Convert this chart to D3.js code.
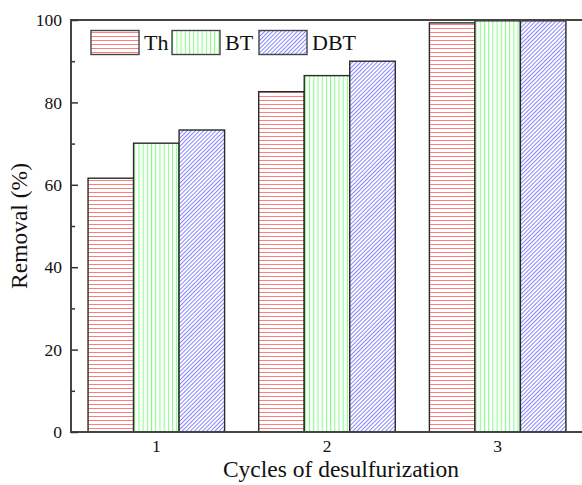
<!DOCTYPE html>
<html>
<head>
<meta charset="utf-8">
<script src="https://cdn.jsdelivr.net/npm/d3@7"></script>
<style>
  body { margin: 0; background: #fff; }
  svg text { font-family: 'Liberation Serif', 'Times New Roman', Tinos, 'DejaVu Serif', serif !important; fill: #111; }
</style>
</head>
<body>
<svg id="chart"></svg>
<script>
// data
const cycles = ['1', '2', '3'];
const seriesNames = ['Th', 'BT', 'DBT'];
const thValues = [61.6, 82.6, 99.3];
const btValues = [70.1, 86.5, 99.8];
const dbtValues = [73.3, 90.0, 99.8];
const yTicks = [0, 20, 40, 60, 80, 100];

const config = {
    width: 582,
    height: 485,
    margin: {top: 20, right: -1, bottom: 53, left: 71}
};

const rows = cycles.map((c, i) => ({
    cycle: c,
    Th: thValues[i],
    BT: btValues[i],
    DBT: dbtValues[i]
}));

const svg = d3.select('#chart')
    .attr('width', config.width)
    .attr('height', config.height);

const plotW = config.width - config.margin.left - config.margin.right;
const plotH = config.height - config.margin.top - config.margin.bottom;

// hatch patterns
const defs = svg.append('defs');
const hatch = [
    {id: 'pat-Th', color: '#ff7f7f', rotate: 0, size: 4, vertical: false},
    {id: 'pat-BT', color: '#7fff7f', rotate: 0, size: 4.2, vertical: true},
    {id: 'pat-DBT', color: '#8585ff', rotate: 45, size: 2.9, vertical: true}
];
hatch.forEach(h => {
    const p = defs.append('pattern')
        .attr('id', h.id)
        .attr('patternUnits', 'userSpaceOnUse')
        .attr('width', h.size)
        .attr('height', h.size);
    if (h.rotate) p.attr('patternTransform', `rotate(${h.rotate})`);
    p.append('rect').attr('width', h.size).attr('height', h.size).attr('fill', '#fff');
    if (h.vertical) {
        p.append('line').attr('x1', 0.5).attr('x2', 0.5).attr('y1', 0).attr('y2', h.size)
            .attr('stroke', h.color).attr('stroke-width', 1);
    } else {
        p.append('line').attr('x1', 0).attr('x2', h.size).attr('y1', 0.5).attr('y2', 0.5)
            .attr('stroke', h.color).attr('stroke-width', 1);
    }
});

const chart = svg.append('g')
    .attr('transform', `translate(${config.margin.left},${config.margin.top})`);

const xScale = d3.scaleBand()
    .domain(cycles)
    .range([0, plotW])
    .paddingInner(0.2)
    .paddingOuter(0.1);

const xSub = d3.scaleBand()
    .domain(seriesNames)
    .range([0, xScale.bandwidth()])
    .padding(0);

const yScale = d3.scaleLinear()
    .domain([0, 100])
    .range([plotH, 0]);

// bars
chart.selectAll('.group')
    .data(rows)
    .join('g')
    .attr('class', 'group')
    .attr('transform', d => `translate(${xScale(d.cycle)},0)`)
    .selectAll('rect')
    .data(d => seriesNames.map(k => ({key: k, value: d[k]})))
    .join('rect')
    .attr('x', d => xSub(d.key))
    .attr('y', d => yScale(d.value))
    .attr('width', xSub.bandwidth())
    .attr('height', d => plotH - yScale(d.value))
    .attr('fill', d => `url(#pat-${d.key})`)
    .attr('stroke', '#2a2a2a')
    .attr('stroke-width', 1.4);

// frame
chart.append('rect')
    .attr('width', plotW)
    .attr('height', plotH)
    .attr('fill', 'none')
    .attr('stroke', '#444')
    .attr('stroke-width', 2);

// y axis, ticks inward
const yAxis = d3.axisLeft(yScale).tickValues(yTicks).tickSize(-7).tickPadding(9);
const yAxisG = chart.append('g').attr('class', 'axis y-axis').call(yAxis)
    .attr('font-family', null).attr('font-size', null);
yAxisG.select('.domain').remove();
yAxisG.selectAll('.tick line').attr('stroke', '#333').attr('stroke-width', 1.5);
yAxisG.selectAll('.tick text').attr('fill', '#111').style('font-size', '17.5px');

// minor ticks
const minorAxis = d3.axisLeft(yScale).tickValues([10, 30, 50, 70, 90]).tickSize(-4).tickFormat('');
const minorG = chart.append('g').call(minorAxis);
minorG.select('.domain').remove();
minorG.selectAll('.tick line').attr('stroke', '#333').attr('stroke-width', 1.5);

// x axis, labels only
const xAxis = d3.axisBottom(xScale).tickSize(0).tickPadding(8);
const xAxisG = chart.append('g')
    .attr('class', 'axis x-axis')
    .attr('transform', `translate(0,${plotH})`)
    .call(xAxis)
    .attr('font-family', null).attr('font-size', null);
xAxisG.select('.domain').remove();
xAxisG.selectAll('.tick text').attr('fill', '#111').style('font-size', '17.5px');

// axis titles
svg.append('text')
    .attr('x', 341)
    .attr('y', 477)
    .attr('text-anchor', 'middle')
    .style('font-size', '23.5px')
    .text('Cycles of desulfurization');

svg.append('text')
    .attr('transform', `translate(27,${config.margin.top + plotH / 2}) rotate(-90)`)
    .attr('text-anchor', 'middle')
    .style('font-size', '23.5px')
    .text('Removal (%)');

// legend
const legendX = [91, 172, 259];
const legend = svg.append('g').attr('class', 'legend');
seriesNames.forEach((k, i) => {
    legend.append('rect')
        .attr('x', legendX[i])
        .attr('y', 30.5)
        .attr('width', 48)
        .attr('height', 24)
        .attr('fill', `url(#pat-${k})`)
        .attr('stroke', '#444')
        .attr('stroke-width', 1.4);
    legend.append('text')
        .attr('x', legendX[i] + 53)
        .attr('y', 49.5)
        .style('font-size', '22px')
        .text(k);
});
</script>
</body>
</html>
